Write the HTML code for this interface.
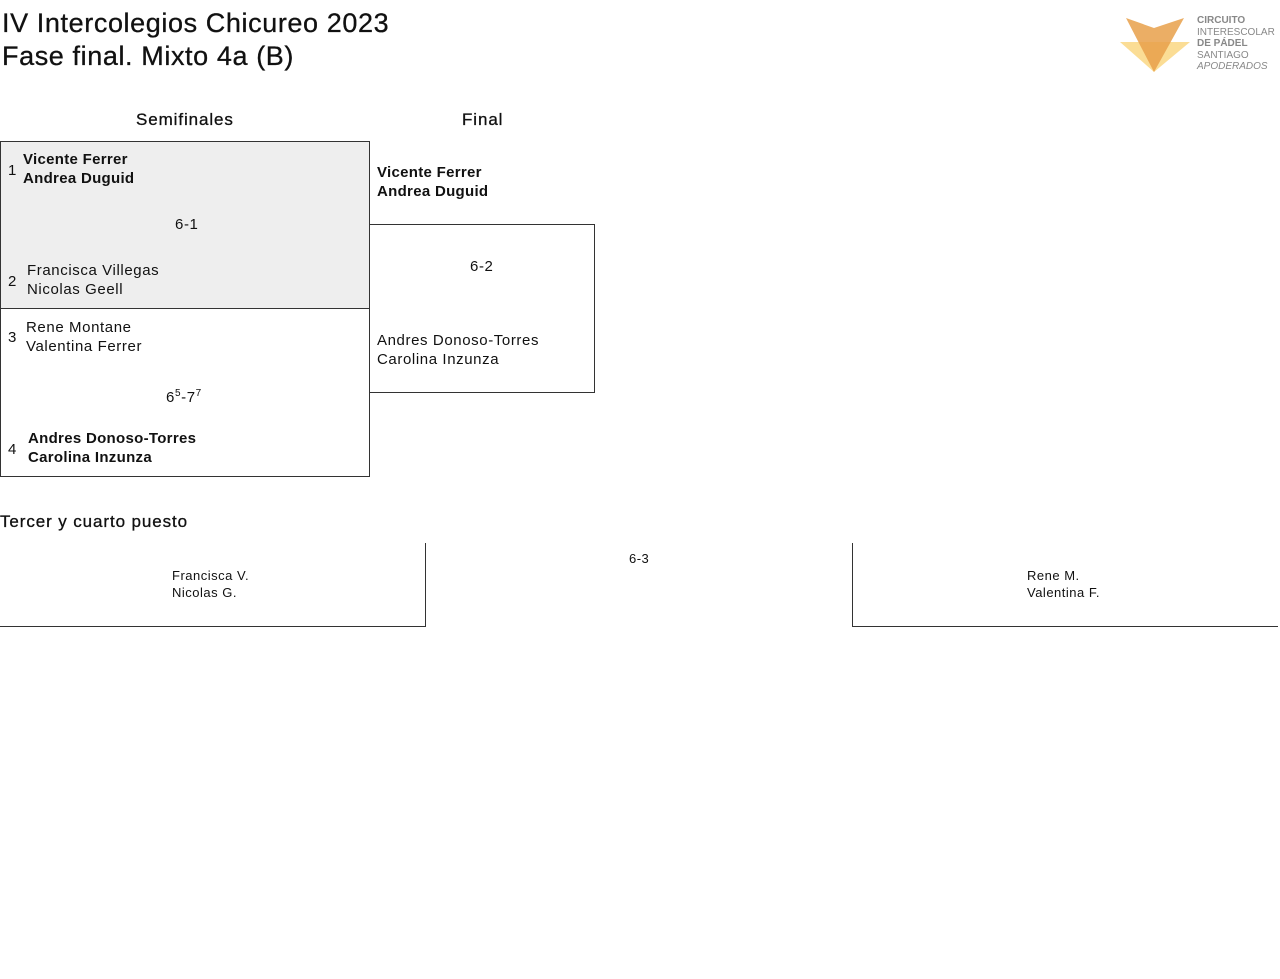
<!DOCTYPE html>
<html><head><meta charset="utf-8"><style>
body{margin:0;width:1280px;height:979px;background:#fff;font-family:"Liberation Sans",sans-serif;color:#111;position:relative;overflow:hidden}
.a{position:absolute;white-space:nowrap}
.t{font-size:27px;letter-spacing:0.6px;font-weight:500;-webkit-text-stroke:0.3px #111}
.h{font-size:17px;letter-spacing:0.9px;-webkit-text-stroke:0.3px #111}
.n{font-size:15px;line-height:19px;letter-spacing:0.6px}
.b{font-weight:bold;letter-spacing:0.3px}
.s{font-size:13px;line-height:17px;letter-spacing:0.5px}
.box{position:absolute;border:1px solid #333;box-sizing:border-box}
</style></head><body>
<div class="a t" style="left:2px;top:8px">IV Intercolegios Chicureo 2023</div>
<div class="a t" style="left:2px;top:41px">Fase final. Mixto 4a (B)</div>
<svg class="a" style="left:1118px;top:16px" width="74" height="58">
<polygon points="2,26 72,26 36,56" fill="#fbd98a" opacity="0.9"/>
<polygon points="8,2 36,12 66,2 36,56" fill="#e8a04a" opacity="0.85"/>
</svg>
<div class="a" style="left:1197px;top:15px;font-size:10px;line-height:11.5px;color:#888"><b>CIRCUITO</b><br>INTERESCOLAR<br><b>DE PÁDEL</b><br>SANTIAGO<br><i>APODERADOS</i></div>

<div class="a h" style="left:136px;top:110px">Semifinales</div>
<div class="a h" style="left:462px;top:110px">Final</div>

<div class="box" style="left:0;top:141px;width:370px;height:168px;background:#eee"></div>
<div class="box" style="left:0;top:308px;width:370px;height:169px"></div>
<div class="a n" style="left:8px;top:161px">1</div>
<div class="a n b" style="left:23px;top:150px">Vicente Ferrer<br>Andrea Duguid</div>
<div class="a n" style="left:175px;top:215px">6-1</div>
<div class="a n" style="left:8px;top:272px">2</div>
<div class="a n" style="left:27px;top:261px">Francisca Villegas<br>Nicolas Geell</div>
<div class="a n" style="left:8px;top:328px">3</div>
<div class="a n" style="left:26px;top:318px">Rene Montane<br>Valentina Ferrer</div>
<div class="a n" style="left:166px;top:384px">6<sup style="font-size:10px">5</sup>-7<sup style="font-size:10px">7</sup></div>
<div class="a n" style="left:8px;top:440px">4</div>
<div class="a n b" style="left:28px;top:429px">Andres Donoso-Torres<br>Carolina Inzunza</div>

<div class="a n b" style="left:377px;top:163px">Vicente Ferrer<br>Andrea Duguid</div>
<div class="box" style="left:369px;top:224px;width:226px;height:169px;border-left:none"></div>
<div class="a n" style="left:470px;top:257px">6-2</div>
<div class="a n" style="left:377px;top:331px">Andres Donoso-Torres<br>Carolina Inzunza</div>

<div class="a h" style="left:0;top:512px">Tercer y cuarto puesto</div>
<div class="box" style="left:0;top:543px;width:426px;height:84px;border-left:none;border-top:none"></div>
<div class="box" style="left:852px;top:543px;width:426px;height:84px;border-right:none;border-top:none"></div>
<div class="a s" style="left:172px;top:567px">Francisca V.<br>Nicolas G.</div>
<div class="a s" style="left:629px;top:550px">6-3</div>
<div class="a s" style="left:1027px;top:567px">Rene M.<br>Valentina F.</div>
</body></html>
